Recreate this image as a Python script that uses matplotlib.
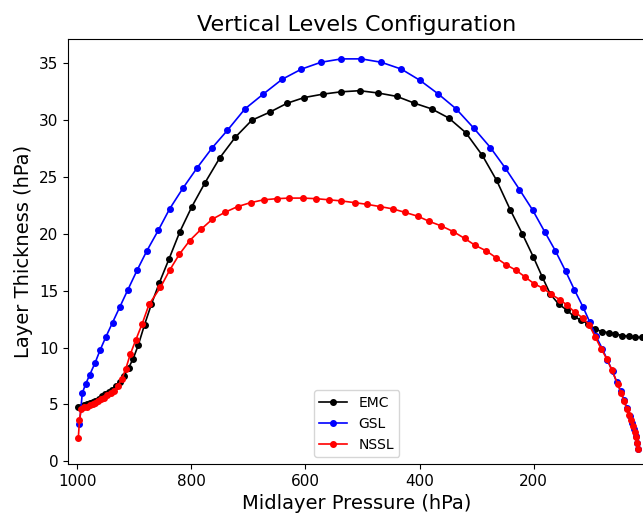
import matplotlib

matplotlib.use("Agg")
import matplotlib.pyplot as plt

# midlayer pressure (hPa) and layer thickness (hPa)
emc_p = [998, 993, 988, 983, 978, 973, 968, 962, 957, 951, 945, 939, 932, 925, 918, 910,
         902, 893, 882, 870, 856, 839, 820, 799, 776, 750, 723, 694, 663, 632, 602, 569,
         538, 505, 473, 440, 409, 379, 349, 319, 290, 265, 241, 220, 201, 185, 171, 156,
         142, 130, 117, 105, 92, 80, 68, 57, 45, 34, 22, 11]
emc_dp = [4.8, 4.8, 4.9, 5.0, 5.1, 5.2, 5.3, 5.5, 5.7, 5.9, 6.1, 6.3, 6.6, 7.0, 7.5, 8.2,
          9.0, 10.2, 12.0, 13.8, 15.7, 17.8, 20.2, 22.4, 24.5, 26.7, 28.5, 30.0, 30.7, 31.5,
          32.0, 32.3, 32.5, 32.6, 32.4, 32.1, 31.5, 31.0, 30.2, 28.9, 26.9, 24.7, 22.1, 20.0,
          18.0, 16.2, 14.7, 13.8, 13.3, 12.75, 12.4, 12.1, 11.6, 11.4, 11.3, 11.2, 11.05,
          11.0, 10.9, 10.9]

gsl_p = [996, 991, 985, 978, 969, 960, 950, 938, 925, 911, 895, 878, 858, 838, 815, 790,
         763, 737, 706, 674, 641, 607, 573, 537, 502, 467, 432, 399, 367, 336, 305, 276,
         250, 225, 202, 181, 162, 144, 129, 114, 102, 91, 80, 71, 62, 55, 48, 42, 37, 32,
         28, 24.5, 21.5, 19, 17]
gsl_dp = [3.25, 6.0, 6.8, 7.6, 8.6, 9.75, 10.9, 12.2, 13.6, 15.1, 16.8, 18.5, 20.3, 22.2,
          24.0, 25.8, 27.6, 29.1, 31.0, 32.3, 33.6, 34.5, 35.1, 35.4, 35.4, 35.1, 34.5,
          33.5, 32.3, 31.0, 29.3, 27.6, 25.8, 23.9, 22.1, 20.2, 18.5, 16.7, 15.1, 13.6,
          12.25, 11.0, 9.9, 8.9, 7.9, 7.0, 6.2, 5.4, 4.7, 4.0, 3.4, 2.8, 2.2, 1.6, 1.1]

nssl_p = [998, 996, 993, 988, 983, 978, 973, 968, 963, 958, 953, 947, 941, 935, 929, 922,
          915, 907, 897, 886, 874, 854, 838, 821, 803, 783, 763, 741, 719, 696, 673, 650,
          628, 605, 582, 559, 537, 514, 492, 469, 447, 426, 403, 383, 362, 341, 321, 303,
          283, 266, 249, 231, 215, 199, 183, 170, 154, 141, 128, 114, 103, 92, 82, 72, 63,
          53, 47, 42, 37, 33, 29, 26, 23, 21, 19.5, 18]
nssl_dp = [2.0, 3.6, 4.6, 4.8, 4.8, 4.9, 5.0, 5.1, 5.3, 5.45, 5.6, 5.8, 6.0, 6.2, 6.6, 7.2,
           8.1, 9.4, 10.7, 12.1, 13.8, 15.3, 16.8, 18.2, 19.4, 20.4, 21.3, 21.9, 22.4,
           22.75, 23.0, 23.1, 23.15, 23.15, 23.1, 23.0, 22.9, 22.75, 22.6, 22.4, 22.2, 21.9,
           21.55, 21.1, 20.7, 20.2, 19.6, 19.0, 18.5, 17.9, 17.3, 16.8, 16.2, 15.6, 15.2,
           14.7, 14.2, 13.7, 13.1, 12.6, 12.0, 10.9, 9.9, 9.0, 8.0, 6.8, 6.0, 5.3, 4.6, 4.1,
           3.6, 3.1, 2.6, 2.1, 1.6, 1.1]

fig = plt.figure(figsize=(6.43, 5.22), dpi=100)
# the reference is cut off at the right, so the axes run slightly past the edge
ax = fig.add_axes([0.1058, 0.1111, 0.8974, 0.8142])

ax.plot(emc_p, emc_dp, marker="o", ms=4, lw=1.2, color="black", label="EMC")
ax.plot(gsl_p, gsl_dp, marker="o", ms=4, lw=1.2, color="blue", label="GSL")
ax.plot(nssl_p, nssl_dp, marker="o", ms=4, lw=1.2, color="red", label="NSSL")

ax.set_xlim(1016, 5)
ax.set_ylim(-0.25, 37.15)
ax.set_xticks([1000, 800, 600, 400, 200])
ax.set_yticks([0, 5, 10, 15, 20, 25, 30, 35])
ax.tick_params(labelsize=11)
ax.set_xlabel("Midlayer Pressure (hPa)", fontsize=14)
ax.set_ylabel("Layer Thickness (hPa)", fontsize=14)
ax.set_title("Vertical Levels Configuration", fontsize=16)
ax.legend(loc="lower center", fontsize=10)

fig.savefig("out.png", dpi=100)
